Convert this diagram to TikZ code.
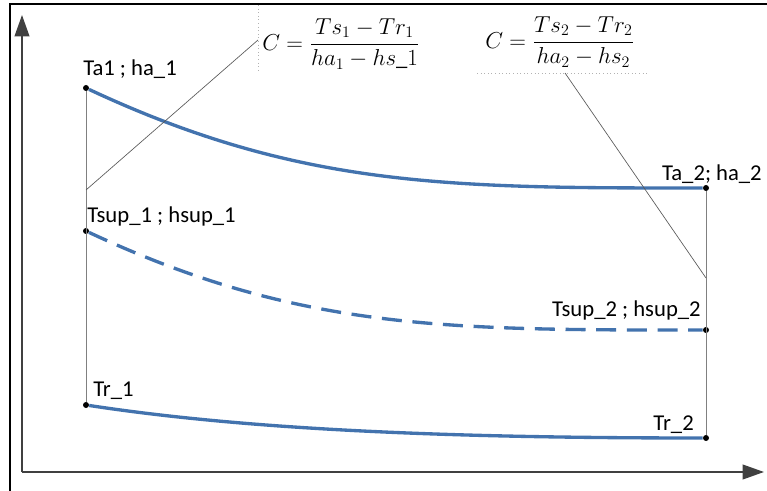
\documentclass[tikz,border=0pt]{standalone}
\usepackage{amsmath}
\usepackage{fontspec}
\setmainfont{Carlito}
\usetikzlibrary{arrows.meta}
\definecolor{curveblue}{HTML}{4373AE}
\definecolor{axisgray}{HTML}{404040}
\tikzset{
  ptdot/.style={circle, fill=black, inner sep=0pt, minimum size=4.5pt},
  curveline/.style={curveblue, line width=2.5pt},
  ptlabel/.style={font=\fontsize{17}{19}\selectfont, inner sep=0pt},
  eqlabel/.style={font=\fontsize{17}{19}\selectfont, inner sep=0pt},
  guideline/.style={gray, line width=0.75pt},
  leaderline/.style={black!65, line width=0.5pt},
  dotline/.style={gray!60, dotted, line width=0.7pt},
  axisline/.style={axisgray, line width=1.4pt, -{Triangle[length=16pt,width=11pt]}}
}

\begin{document}
\begin{tikzpicture}[x=0.75pt, y=-0.75pt]
  \useasboundingbox (0,0) rectangle (767,491);
  % frame
  \draw[line width=1.5pt] (10,491) -- (10,4) -- (767,4);
  % axes
  \coordinate (origin) at (22,472);
  \coordinate (ytip) at (22,15);
  \coordinate (xtip) at (764,472);
  \draw[axisline] (origin) -- (ytip);
  \draw[axisline] (origin) -- (xtip);

  % state points
  \node[ptdot] (ta1) at (86,88) {};
  \node[ptdot] (tsup1) at (86,231) {};
  \node[ptdot] (tr1) at (86,405) {};
  \node[ptdot] (ta2) at (706,188) {};
  \node[ptdot] (tsup2) at (706,330) {};
  \node[ptdot] (tr2) at (706,438) {};

  \draw[guideline] (ta1) -- (tr1);
  \draw[guideline] (ta2) -- (tr2);

  % curves
  \draw[curveline] (ta1) .. controls (300,188) and (450,188) .. (ta2);
  \draw[curveline, dash pattern=on 15pt off 8pt] (tsup1) .. controls (300,331) and (450,330) .. (tsup2);
  \draw[curveline] (tr1) .. controls (250,430) and (450,438) .. (tr2);

  % labels
  \node[ptlabel, anchor=base west] (ta1lab) at (83,76) {Ta1 ; ha\_1};
  \node[ptlabel, anchor=base west] (tsup1lab) at (87,223) {Tsup\_1 ; hsup\_1};
  \node[ptlabel, anchor=base west] (tr1lab) at (93,396) {Tr\_1};
  \node[ptlabel, anchor=base east] (ta2lab) at (762,181) {Ta\_2; ha\_2};
  \node[ptlabel, anchor=base east] (tsup2lab) at (701,317) {Tsup\_2 ; hsup\_2};
  \node[ptlabel, anchor=base east] (tr2lab) at (694,430) {Tr\_2};

  % formulas with leaders
  \node[eqlabel, anchor=west] (eq1) at (262,44) {$C=\dfrac{Ts_1-Tr_1}{ha_1-hs\_1}$};
  \node[eqlabel, anchor=west] (eq2) at (485,42) {$C=\dfrac{Ts_2-Tr_2}{ha_2-hs_2}$};

  \coordinate (bar1top) at (258,5);
  \coordinate (bar1bot) at (258,73);
  \coordinate (bar2left) at (477,73);
  \coordinate (bar2right) at (648,73);
  \draw[dotline] (bar1top) -- (bar1bot);
  \draw[dotline] (bar2left) -- (bar2right);

  \coordinate (lead1) at (86,190);
  \coordinate (tick1) at (258,40);
  \coordinate (lead2) at (706,278);
  \coordinate (tick2) at (565,73);
  \draw[leaderline] (lead1) -- (tick1);
  \draw[leaderline] (lead2) -- (tick2);
\end{tikzpicture}
\end{document}
